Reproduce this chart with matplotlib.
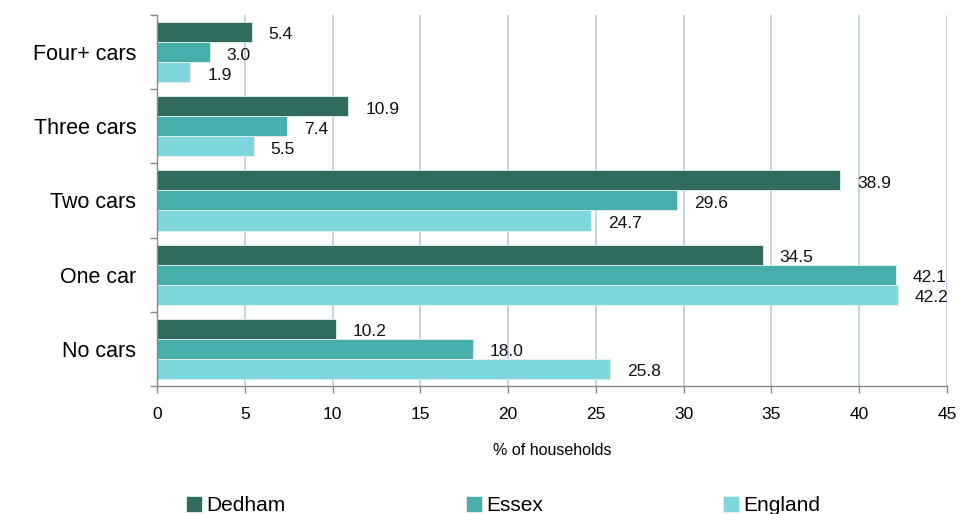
import matplotlib

matplotlib.use("Agg")
import matplotlib.pyplot as plt
import numpy as np

categories = ["No cars", "One car", "Two cars", "Three cars", "Four+ cars"]
series = ["Dedham", "Essex", "England"]
dedham = [10.2, 34.5, 38.9, 10.9, 5.4]
essex = [18.0, 42.1, 29.6, 7.4, 3.0]
england = [25.8, 42.2, 24.7, 5.5, 1.9]
xticks = [0, 5, 10, 15, 20, 25, 30, 35, 40, 45]

colors = ["#316b5f", "#47afab", "#7fd6dd"]
plt.rcParams["font.family"] = ["Liberation Sans", "DejaVu Sans"]

fig = plt.figure(figsize=(9.6, 5.14), dpi=100)
ax = fig.add_axes([0.1635, 0.249, 0.823, 0.722])

y = np.arange(len(categories), dtype=float)
h = 0.27
for offset, name, vals, col in zip((h, 0.0, -h), series, (dedham, essex, england), colors):
    bars = ax.barh(y + offset, vals, height=h, color=col, label=name,
                   edgecolor="#e8f0ee", linewidth=0.6, zorder=2)
    for b, v in zip(bars, vals):
        ax.annotate(f"{v:.1f}", (v, b.get_y() + h / 2), xytext=(17, -3),
                    textcoords="offset pixels", ha="left", va="center",
                    fontsize=12.5, color="#111111", zorder=1.5)

ax.set_xlim(0, 45)
ax.set_ylim(-0.5, len(categories) - 0.5)
ax.set_xticks(xticks)
ax.tick_params(axis="x", labelsize=12.5, length=5, width=1, color="#888888", pad=10)
ax.set_yticks(y)
ax.set_yticklabels(categories, fontsize=15.5)
ax.tick_params(axis="y", which="major", length=0, pad=15)
ax.set_yticks(np.arange(-0.5, len(categories), 1.0), minor=True)
ax.tick_params(axis="y", which="minor", length=5, width=1, color="#888888")
ax.grid(axis="x", color="#b9cde5", linewidth=1.2)
ax.set_axisbelow(True)
for side in ("top", "right"):
    ax.spines[side].set_visible(False)
for side in ("left", "bottom"):
    ax.spines[side].set_color("#888888")
    ax.spines[side].set_linewidth(1)
ax.set_xlabel("% of households", fontsize=11.5, labelpad=15)

fig.legend(loc="center", bbox_to_anchor=(0.524, 0.016), ncol=3, frameon=False,
           fontsize=15, handlelength=0.77, handleheight=0.77, handletextpad=0.2,
           columnspacing=8.65)

fig.savefig("out.png", dpi=100)
